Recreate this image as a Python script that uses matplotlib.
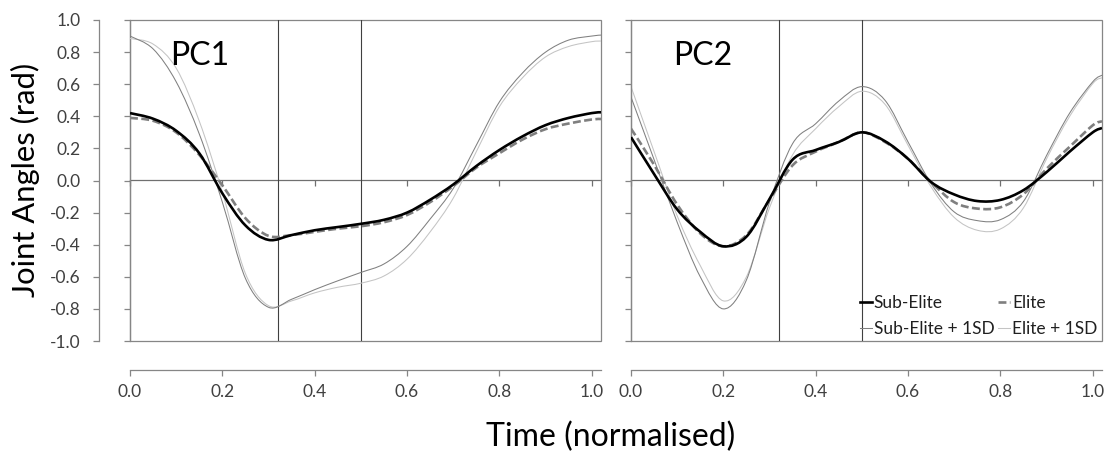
import numpy as np
import matplotlib
matplotlib.use("Agg")
import matplotlib.pyplot as plt
from matplotlib.path import Path
from matplotlib.patches import PathPatch, Rectangle
from matplotlib.lines import Line2D

plt.rcParams['font.family'] = ['Lato', 'DejaVu Sans']
plt.rcParams['axes.unicode_minus'] = False

# ---------------- data ----------------
time = [0.00, 0.05, 0.10, 0.15, 0.20, 0.25, 0.30, 0.35, 0.40, 0.45, 0.50,
        0.55, 0.60, 0.65, 0.70, 0.75, 0.80, 0.85, 0.90, 0.95, 1.00, 1.02]

pc1_sub_elite = [0.42, 0.385, 0.31, 0.17, -0.08, -0.28, -0.37, -0.34, -0.31, -0.29, -0.27,
                 -0.245, -0.20, -0.12, -0.025, 0.09, 0.19, 0.275, 0.345, 0.39, 0.42, 0.425]
pc1_elite = [0.39, 0.372, 0.30, 0.16, -0.03, -0.235, -0.345, -0.34, -0.32, -0.30, -0.285,
             -0.26, -0.215, -0.135, -0.035, 0.08, 0.17, 0.255, 0.32, 0.355, 0.38, 0.383]
pc1_sub_elite_sd = [0.90, 0.82, 0.615, 0.29, -0.135, -0.61, -0.79, -0.74, -0.68, -0.625, -0.573,
                    -0.52, -0.41, -0.24, -0.05, 0.22, 0.49, 0.67, 0.80, 0.875, 0.90, 0.906]
pc1_elite_sd = [0.885, 0.85, 0.70, 0.37, -0.073, -0.58, -0.78, -0.75, -0.70, -0.665, -0.64,
                -0.595, -0.49, -0.32, -0.11, 0.18, 0.46, 0.64, 0.77, 0.835, 0.865, 0.869]

pc2_sub_elite = [0.27, 0.04, -0.18, -0.32, -0.41, -0.35, -0.115, 0.13, 0.19, 0.24, 0.30,
                 0.245, 0.135, -0.01, -0.087, -0.128, -0.121, -0.06, 0.052, 0.18, 0.30, 0.327]
pc2_elite = [0.323, 0.098, -0.15, -0.33, -0.41, -0.34, -0.12, 0.095, 0.18, 0.24, 0.30,
             0.24, 0.135, -0.01, -0.135, -0.175, -0.167, -0.085, 0.073, 0.21, 0.344, 0.369]
pc2_sub_elite_sd = [0.52, 0.13, -0.26, -0.60, -0.80, -0.62, -0.135, 0.23, 0.354, 0.495, 0.585,
                    0.50, 0.24, -0.02, -0.196, -0.25, -0.244, -0.13, 0.156, 0.42, 0.615, 0.656]
pc2_elite_sd = [0.585, 0.18, -0.22, -0.53, -0.75, -0.60, -0.17, 0.16, 0.323, 0.46, 0.556,
                0.475, 0.219, -0.04, -0.23, -0.31, -0.302, -0.17, 0.135, 0.40, 0.604, 0.64]

phase_lines = [0.32, 0.50]
panel_titles = ["PC1", "PC2"]
series_names = ["Sub-Elite", "Elite", "Sub-Elite + 1SD", "Elite + 1SD"]
x_ticks = [0.0, 0.2, 0.4, 0.6, 0.8, 1.0]
y_ticks = [-1.0, -0.8, -0.6, -0.4, -0.2, 0.0, 0.2, 0.4, 0.6, 0.8, 1.0]

# ---------------- styles ----------------
styles = {
    "Sub-Elite": dict(color="#000000", lw=1.9, ls="-", z=5),
    "Elite": dict(color="#7f7f7f", lw=1.9, ls=(0, (3.0, 1.3)), z=4),
    "Sub-Elite + 1SD": dict(color="#808080", lw=0.75, ls="-", z=3),
    "Elite + 1SD": dict(color="#c4c4c4", lw=0.75, ls="-", z=2),
}


def smooth_path(x, y):
    """Excel-like smoothed line (Catmull-Rom as cubic Bezier) through the data."""
    pts = np.column_stack([x, y]).astype(float)
    n = len(pts)
    verts = [pts[0]]
    codes = [Path.MOVETO]
    for i in range(n - 1):
        p0 = pts[i - 1] if i > 0 else pts[i]
        p1 = pts[i]
        p2 = pts[i + 1]
        p3 = pts[i + 2] if i + 2 < n else pts[i + 1]
        c1 = p1 + (p2 - p0) / 6.0
        c2 = p2 - (p3 - p1) / 6.0
        verts += [c1, c2, p2]
        codes += [Path.CURVE4] * 3
    return Path(verts, codes)


W, H = 1105, 454
fig = plt.figure(figsize=(W / 100, H / 100), dpi=100)

px2pt = 72 / 100.0
frame_col = "#868686"
panel_lefts = [130, 631]
panel_w = 471
top, bottom = 20, 341
title_lefts = [170, 673]

panels = [
    [pc1_sub_elite, pc1_elite, pc1_sub_elite_sd, pc1_elite_sd],
    [pc2_sub_elite, pc2_elite, pc2_sub_elite_sd, pc2_elite_sd],
]

axes = []
for k, (left, data) in enumerate(zip(panel_lefts, panels)):
    ax = fig.add_axes([left / W, 1 - bottom / H, panel_w / W, (bottom - top) / H])
    axes.append(ax)
    ax.set_xlim(0, 1.02)
    ax.set_ylim(-1, 1)
    ax.patch.set_alpha(0)

    # frame
    ax.add_patch(Rectangle((0, 0), 1, 1, transform=ax.transAxes, fill=False,
                           ec=frame_col, lw=0.9, zorder=1, clip_on=False))
    for s in ["top", "right"]:
        ax.spines[s].set_visible(False)

    # bottom labelled x axis (outward)
    ax.spines["bottom"].set_position(("outward", 29 * px2pt))
    ax.spines["bottom"].set_color(frame_col)
    ax.spines["bottom"].set_linewidth(0.9)
    ax.set_xticks(x_ticks)
    ax.set_xticklabels([f"{v:.1f}" for v in x_ticks])
    ax.tick_params(axis="x", direction="out", length=4, width=0.9, color=frame_col,
                   labelsize=12.5, pad=6, labelcolor="#404040")

    # y axis
    ax.set_yticks(y_ticks)
    if k == 0:
        ax.spines["left"].set_position(("outward", 31 * px2pt))
        ax.spines["left"].set_color(frame_col)
        ax.spines["left"].set_linewidth(0.9)
        ax.set_yticklabels([f"{v:.1f}" for v in y_ticks])
        ax.tick_params(axis="y", direction="out", length=4, width=0.9, color=frame_col,
                       labelsize=12.5, pad=9, labelcolor="#404040")
        sec_y = ax.secondary_yaxis(0.0)
        sec_y.set_yticks(y_ticks)
        sec_y.set_yticklabels([])
        sec_y.spines["left"].set_color(frame_col)
        sec_y.spines["left"].set_linewidth(0.9)
        sec_y.tick_params(axis="y", direction="out", length=4, width=0.9, color=frame_col)
    else:
        ax.spines["left"].set_color(frame_col)
        ax.spines["left"].set_linewidth(0.9)
        ax.set_yticklabels([])
        ax.tick_params(axis="y", direction="out", length=4, width=0.9, color=frame_col)

    # zero line with ticks
    sec_x = ax.secondary_xaxis(0.5)
    sec_x.set_alignment("bottom")
    sec_x.set_xticks(x_ticks)
    sec_x.set_xticklabels([])
    sec_x.spines["bottom"].set_color("#707070")
    sec_x.spines["bottom"].set_linewidth(0.9)
    sec_x.tick_params(axis="x", direction="out", length=4, width=0.9, color="#707070")

    # phase lines
    for xv in phase_lines:
        ax.axvline(xv, color="#404040", lw=0.8, zorder=1.5)

    # series (thin first)
    for name, vals in reversed(list(zip(series_names, data))):
        st = styles[name]
        ax.add_patch(PathPatch(smooth_path(time, vals), fill=False, ec=st["color"],
                               lw=st["lw"], ls=st["ls"], zorder=st["z"],
                               capstyle="butt", joinstyle="round"))

    ax.text((title_lefts[k] - left) / panel_w, (bottom - 65) / (bottom - top), panel_titles[k],
            transform=ax.transAxes, fontsize=23, va="baseline", ha="left", color="#000000")

# legend (row-wise order as in the reference: column-major filling)
order = ["Sub-Elite", "Sub-Elite + 1SD", "Elite", "Elite + 1SD"]
handles = [Line2D([], [], color=styles[n]["color"], lw=styles[n]["lw"], ls=styles[n]["ls"])
           for n in order]
leg = axes[1].legend(handles, order, ncol=2, loc="lower right",
                     bbox_to_anchor=(1.0, 0.0), frameon=False, fontsize=12.5,
                     handlelength=0.7, handletextpad=0.12, columnspacing=0.2,
                     labelspacing=0.55, borderaxespad=0.1, borderpad=0.15)
for t in leg.get_texts():
    t.set_color("#202020")

fig.text(25 / W, 1 - 180 / H, "Joint Angles (rad)", rotation=90, fontsize=22.3,
         ha="center", va="center")
fig.text(611 / W, 1 - 437 / H, "Time (normalised)", fontsize=23,
         ha="center", va="center")

fig.savefig("out.png", dpi=100)
